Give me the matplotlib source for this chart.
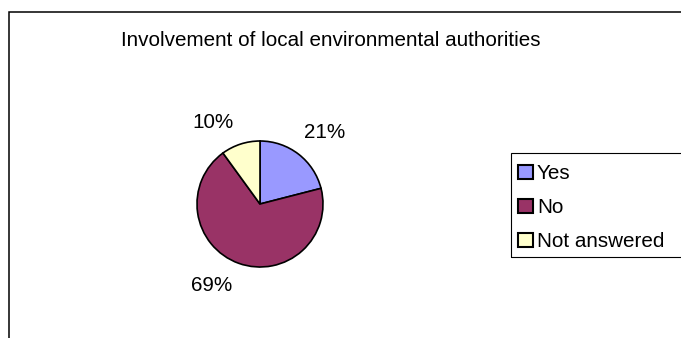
import numpy as np
import matplotlib
matplotlib.use("Agg")
import matplotlib.pyplot as plt
from matplotlib.patches import Rectangle

plt.rcParams["font.family"] = ["Liberation Sans", "DejaVu Sans"]

# Survey answers
categories = ["Yes", "No", "Not answered"]
shares = [21, 69, 10]
colors = ["#9999FF", "#993366", "#FFFFCC"]

# where each percentage label sits (degrees, radius multiples)
label_angles = [48, 239, 120]
label_dist = [1.53, 1.5, 1.49]

W, H = 681, 338
fig = plt.figure(figsize=(W / 100, H / 100), dpi=100)

# chart frame, only top and left edges fall inside the image
fig.patches.append(Rectangle((8.5 / W, -0.1), 1.0, (H - 11.5) / H + 0.1,
                             transform=fig.transFigure, fill=False,
                             edgecolor="black", linewidth=1.1))

fig.text(331 / W, 1 - 40 / H, "Involvement of local environmental authorities",
         ha="center", va="center", fontsize=14.9)

# pie axes: centre at (260, 204) px, radius 63 px
box = 200
r_px = 63
cx, cy = 260, H - 204
ax = fig.add_axes([(cx - box / 2) / W, (cy - box / 2) / H, box / W, box / H])

wedges, texts = ax.pie(shares, colors=colors, startangle=90, counterclock=False,
                       wedgeprops=dict(edgecolor="black", linewidth=1.2),
                       labels=[f"{s}%" for s in shares], labeldistance=1.5,
                       textprops=dict(fontsize=14.9))
for t, a, d in zip(texts, label_angles, label_dist):
    t.set_position((d * np.cos(np.radians(a)), d * np.sin(np.radians(a))))
    t.set_ha("center")
    t.set_va("center")

# pie() resets the limits, so fix them afterwards
lim = box / 2 / r_px
ax.set_xlim(-lim, lim)
ax.set_ylim(-lim, lim)
ax.set_aspect("equal")
ax.axis("off")

# legend box runs past the right edge
fig.patches.append(Rectangle((511.5 / W, 1 - 257 / H), 200 / W, 104 / H,
                             transform=fig.transFigure, fill=False,
                             edgecolor="black", linewidth=0.8))
leg = fig.legend(wedges, categories, loc="upper left",
                 bbox_to_anchor=(514 / W, 1 - 160 / H),
                 fontsize=14.9, frameon=False,
                 handlelength=0.7, handleheight=0.7, handletextpad=0.2,
                 labelspacing=0.73, borderpad=0.2, borderaxespad=0)
for h in leg.legend_handles:
    h.set_linewidth(1.5)

fig.savefig("out.png", dpi=100)
